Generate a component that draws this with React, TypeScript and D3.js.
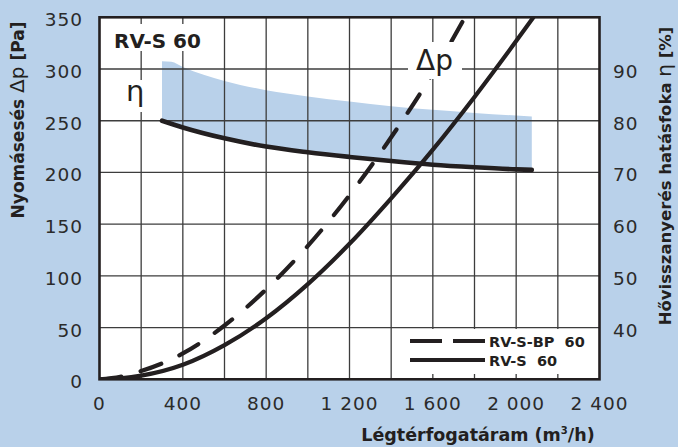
import React from "react";
import * as d3 from "d3";

const W = 678;
const H = 447;

// Axis ticks
const flowTicks = [0, 400, 800, 1200, 1600, 2000, 2400];
const flowTickLabels = ["0", "400", "800", "1 200", "1 600", "2 000", "2 400"];
const flowGrid = [200, 400, 600, 800, 1000, 1200, 1400, 1600, 1800, 2000, 2200];
const paTicks = [0, 50, 100, 150, 200, 250, 300, 350];
const paGrid = [50, 100, 150, 200, 250, 300];
const etaTicks = [40, 50, 60, 70, 80, 90];

// Pressure drop curves
const bpQ = [0, 100, 200, 400, 600, 800, 1000, 1200, 1400, 1600, 1760];
const bpP = [0, 2.5, 8, 25, 52, 87, 129, 178, 234, 296, 352];
const sQ = [0, 100, 200, 400, 600, 800, 1000, 1200, 1400, 1600, 1800, 2000, 2090];
const sP = [0, 1, 3.5, 14, 33, 59, 92, 131, 175, 222, 273, 327, 352];

// Efficiency curve
const etaQ = [300, 400, 600, 800, 1000, 1200, 1400, 1600, 1800, 2000, 2075];
const etaV = [80, 78.7, 76.6, 75.0, 73.9, 73.0, 72.2, 71.5, 71.0, 70.6, 70.5];

// Efficiency band upper edge
const bandQ = [300, 345, 400, 600, 800, 1000, 1200, 1400, 1600, 1800, 2000, 2075];
const bandTop = [91.5, 91.4, 90.4, 87.7, 85.9, 84.7, 83.7, 82.8, 82.1, 81.5, 81.0, 80.8];

const BG = "#b9d1ea";
const INK = "#231f20";

export default function App() {
  const x = d3.scaleLinear().domain([0, 2400]).range([99.5, 599.5]);
  const y = d3.scaleLinear().domain([0, 350]).range([379.3, 17.3]);
  const yE = d3.scaleLinear().domain([30, 100]).range([379.3, 17.3]);

  const line = d3
    .line<[number, number]>()
    .x((d) => x(d[0]))
    .y((d) => y(d[1]))
    .curve(d3.curveMonotoneX);
  const lineE = d3
    .line<[number, number]>()
    .x((d) => x(d[0]))
    .y((d) => yE(d[1]))
    .curve(d3.curveMonotoneX);

  const bpPts = bpQ.map((q, i) => [q, bpP[i]] as [number, number]);
  const sPts = sQ.map((q, i) => [q, sP[i]] as [number, number]);
  const etaPts = etaQ.map((q, i) => [q, etaV[i]] as [number, number]);

  const topPath = lineE(bandQ.map((q, i) => [q, bandTop[i]] as [number, number])) || "";
  const botPath = lineE(etaPts.slice().reverse()) || "";
  const bandPath = topPath + botPath.replace(/^M/, "L") + "Z";

  const x0 = x(0), x1 = x(2400), y0 = y(0), y1 = y(350);
  const tickFont = "'DejaVu Sans', sans-serif";

  return (
    <svg
      width={W}
      height={H}
      style={{ position: "absolute", left: 0, top: 0, display: "block" }}
    >
      <defs>
        <clipPath id="plot">
          <rect x={x0} y={y1} width={x1 - x0} height={y0 - y1} />
        </clipPath>
      </defs>
      <rect x={0} y={0} width={W} height={H} fill={BG} />
      <rect x={x0} y={y1} width={x1 - x0} height={y0 - y1} fill="#fff" />

      {/* band */}
      <path d={bandPath} fill={BG} stroke="none" />

      {/* grid */}
      <g stroke="#3d3d3d" strokeWidth={1.3}>
        {flowGrid.map((q) => (
          <line key={"gx" + q} x1={x(q)} x2={x(q)} y1={y1} y2={y0} />
        ))}
        {paGrid.map((p) => (
          <line key={"gy" + p} x1={x0} x2={x1} y1={y(p)} y2={y(p)} />
        ))}
      </g>

      {/* white boxes for labels */}
      <rect x={110} y={24} width={100} height={27} fill="#fff" />
      <rect x={124} y={80} width={26} height={32} fill="#fff" />
      <rect x={403} y={329} width={x1 - 403} height={45} fill="#fff" />

      {/* curves */}
      <g clipPath="url(#plot)" fill="none" stroke={INK} strokeLinecap="round">
        <path d={lineE(etaPts) || ""} strokeWidth={4.6} />
        <path d={line(sPts) || ""} strokeWidth={4.2} />
        <path d={line(bpPts) || ""} strokeWidth={4.2} strokeDasharray="22 20" />
      </g>

      {/* Δp label box */}
      <rect x={408} y={42} width={54} height={37} fill="#fff" />
      <text x={416} y={70} fontFamily={tickFont} fontSize={28} fill={INK}>Δp</text>

      {/* frame */}
      <rect x={x0} y={y1} width={x1 - x0} height={y0 - y1} fill="none" stroke={INK} strokeWidth={2.6} />

      {/* chart labels */}
      <text x={114} y={48} fontFamily={tickFont} fontWeight="bold" fontSize={20} fill={INK}>RV-S 60</text>
      <text x={126} y={101} fontFamily={tickFont} fontSize={29} fill={INK}>η</text>

      {/* legend */}
      <line x1={410} x2={485} y1={341} y2={341} stroke={INK} strokeWidth={4.2} strokeDasharray="32 11" />
      <line x1={410} x2={485} y1={360} y2={360} stroke={INK} strokeWidth={4.2} />
      <text x={489} y={346.5} fontFamily={tickFont} fontWeight="bold" fontSize={14.5} fill={INK} style={{ whiteSpace: "pre" }}>{"RV-S-BP  60"}</text>
      <text x={489} y={365.5} fontFamily={tickFont} fontWeight="bold" fontSize={14.5} fill={INK} style={{ whiteSpace: "pre" }}>{"RV-S  60"}</text>

      {/* left ticks */}
      {paTicks.map((p) => (
        <text key={"lt" + p} x={83} y={y(p) + 9} textAnchor="end" fontFamily={tickFont} fontSize={18.5} letterSpacing={1} fill="#2b2b2b">
          {p}
        </text>
      ))}
      {/* right ticks */}
      {etaTicks.map((e) => (
        <text key={"rt" + e} x={613} y={yE(e) + 9} textAnchor="start" fontFamily={tickFont} fontSize={18.5} letterSpacing={1} fill="#2b2b2b">
          {e}
        </text>
      ))}
      {/* bottom ticks */}
      {flowTicks.map((q, i) => (
        <text key={"bt" + q} x={x(q)} y={410} textAnchor="middle" fontFamily={tickFont} fontSize={18.5} letterSpacing={1} fill="#2b2b2b" style={{ whiteSpace: "pre" }}>
          {flowTickLabels[i]}
        </text>
      ))}

      {/* axis titles */}
      <text x={478} y={441} textAnchor="middle" fontFamily={tickFont} fontWeight="bold" fontSize={17.5} fill={INK}>
        Légtérfogatáram (m<tspan dy={-7} fontSize={10}>3</tspan><tspan dy={7}>/h)</tspan>
      </text>
      <text transform="translate(24,120) rotate(-90)" textAnchor="middle" fontFamily={tickFont} fontWeight="bold" fontSize={17} fill={INK}>
        Nyomásesés <tspan fontWeight="normal" fontSize={20}>Δp</tspan> [Pa]
      </text>
      <text transform="translate(671,176) rotate(-90)" textAnchor="middle" fontFamily={tickFont} fontWeight="bold" fontSize={16.5} fill={INK}>
        Hővisszanyerés hatásfoka <tspan fontWeight="normal" fontSize={20}>η</tspan> [%]
      </text>
    </svg>
  );
}
